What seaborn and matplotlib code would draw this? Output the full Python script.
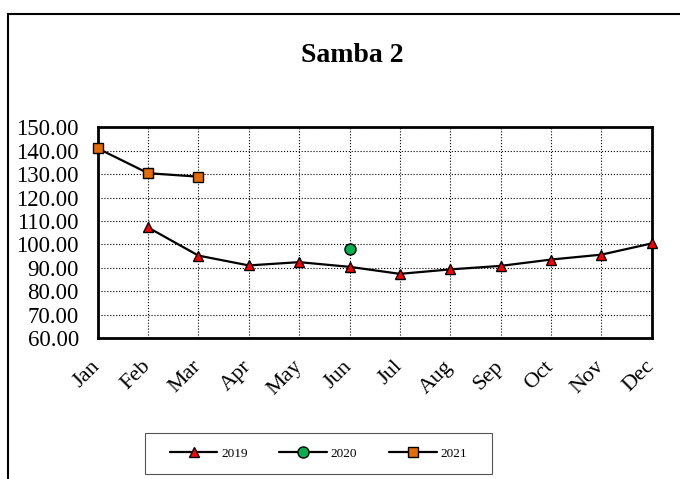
import numpy as np
import pandas as pd
import matplotlib.pyplot as plt
import seaborn as sns
from matplotlib.patches import Rectangle

sns.set_style("white")
plt.rcParams['font.family'] = ['Liberation Serif', 'DejaVu Serif']
plt.rcParams['text.color'] = 'black'
plt.rcParams['xtick.color'] = 'black'
plt.rcParams['ytick.color'] = 'black'

# data
months = ["Jan", "Feb", "Mar", "Apr", "May", "Jun", "Jul", "Aug", "Sep", "Oct", "Nov", "Dec"]
months_2019 = ["Feb", "Mar", "Apr", "May", "Jun", "Jul", "Aug", "Sep", "Oct", "Nov", "Dec"]
values_2019 = [107.2, 95.2, 91.0, 92.4, 90.4, 87.4, 89.3, 90.8, 93.5, 95.6, 100.4]
months_2020 = ["Jun"]
values_2020 = [98.1]
months_2021 = ["Jan", "Feb", "Mar"]
values_2021 = [141.0, 130.4, 128.9]
yticks = [60, 70, 80, 90, 100, 110, 120, 130, 140, 150]

fig = plt.figure(figsize=(6.8, 4.79), dpi=100)
ax = fig.add_axes([97.7 / 680, 1 - 338 / 479, 554 / 680, 210.7 / 479])

# outer chart frame (cut off on right and bottom)
fig.patches.append(Rectangle((8 / 680, -0.2), 1.3, 1.2 - 14 / 479, transform=fig.transFigure,
                             fill=False, edgecolor="black", linewidth=1.5, zorder=0))

def pos(ms):
    return [months.index(m) for m in ms]

sns.lineplot(x=pos(months_2019), y=values_2019, ax=ax, color="black", linewidth=1.6,
             marker="^", markersize=11, markerfacecolor="#FF0000", markeredgecolor="black",
             markeredgewidth=1.0, label="2019", zorder=3, clip_on=False)
sns.lineplot(x=pos(months_2020), y=values_2020, ax=ax, color="black", linewidth=1.6,
             marker="o", markersize=10, markerfacecolor="#00B050", markeredgecolor="black",
             markeredgewidth=1.0, label="2020", zorder=3, clip_on=False)
sns.lineplot(x=pos(months_2021), y=values_2021, ax=ax, color="black", linewidth=1.6,
             marker="s", markersize=7, markerfacecolor="#E36C09", markeredgecolor="black",
             markeredgewidth=1.0, label="2021", zorder=3, clip_on=False)

ax.set_xlim(0, 11)
ax.set_ylim(60, 150)
ax.set_yticks(yticks)
ax.set_yticklabels([f"{v:.2f}" for v in yticks], fontsize=16.5)
ax.set_xticks(range(12))
ax.set_xticklabels(months, fontsize=16, rotation=45, ha="right", va="center",
                   rotation_mode="anchor")
ax.tick_params(axis="both", direction="inout", length=9, width=1.5, color="black")
ax.tick_params(axis="y", pad=9)
ax.tick_params(axis="x", pad=14)
ax.grid(True, color="black", linestyle=":", linewidth=0.8)
for s in ax.spines.values():
    s.set_linewidth(2)
    s.set_color("black")
ax.set_xlabel("")
ax.set_ylabel("")

fig.text(352 / 680, 1 - 56 / 479, "Samba 2", fontsize=20, fontweight="bold",
         ha="center", va="center", color="black")

# legend with its own box
handles, labels = ax.get_legend_handles_labels()
ax.get_legend().remove()
for h, ms in zip(handles, [7, 8, 7]):
    h.set_markersize(ms)
fig.legend(handles, labels, loc="center", bbox_to_anchor=(318.5 / 680, 1 - 453.5 / 479),
           ncol=3, frameon=False, fontsize=9.5, handlelength=3.6, handletextpad=0.3,
           columnspacing=2.4, labelcolor="black")
fig.patches.append(Rectangle((145 / 680, 1 - 474 / 479), 347 / 680, 41.3 / 479,
                             transform=fig.transFigure, fill=False, edgecolor="#555555",
                             linewidth=0.8))

fig.savefig("out.png", dpi=100)
